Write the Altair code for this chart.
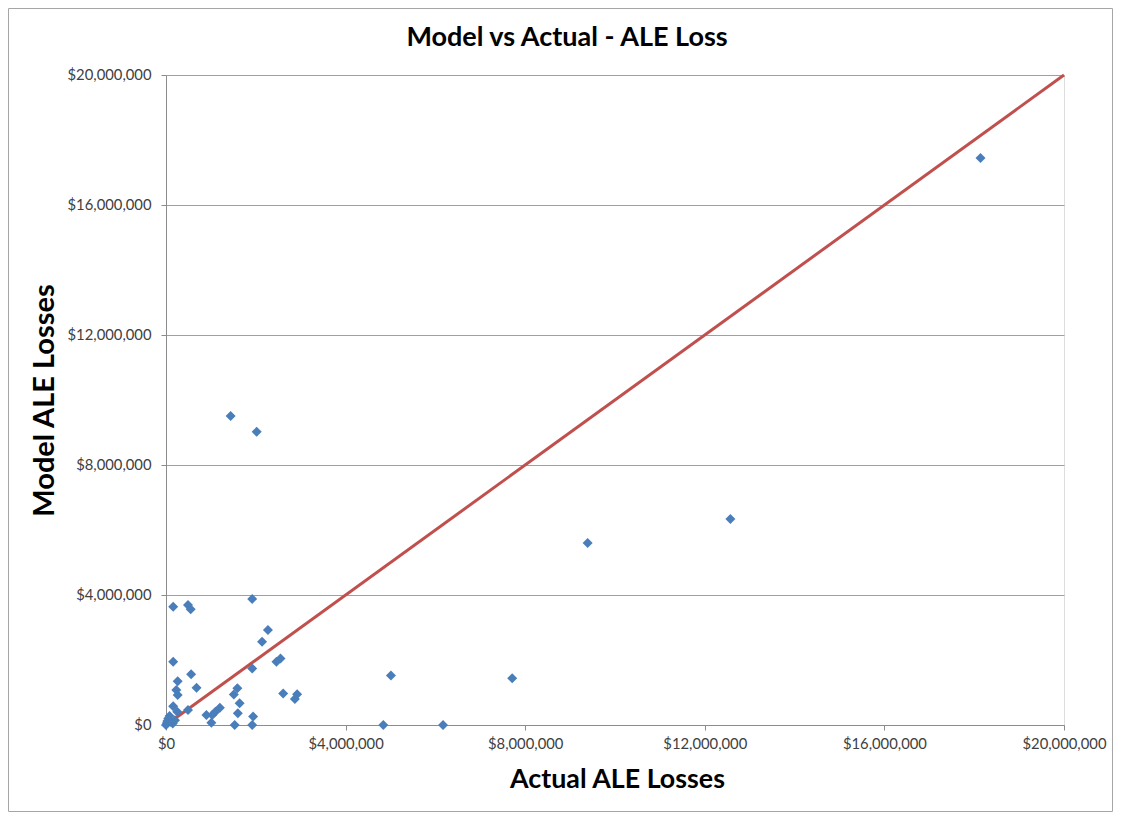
import altair as alt
import pandas as pd

# Actual ALE losses (x) and model ALE losses (y), in dollars
actual = [
    160000, 490000, 550000, 1920000, 2270000, 2140000, 160000, 2550000, 2460000, 1920000,
    560000, 260000, 680000, 230000, 260000, 1590000, 1510000, 2610000, 2920000, 2870000,
    160000, 250000, 490000, 1640000, 1200000, 1100000, 1030000, 900000, 1600000, 1010000,
    1940000, 1530000, 1920000,
    0, 20000, 50000, 100000, 150000, 80000, 200000, 30000,
    1440000, 2020000, 18140000, 12570000, 9390000, 5010000, 7710000, 4840000, 6170000,
]
model = [
    3640000, 3690000, 3560000, 3880000, 2920000, 2560000, 1950000, 2050000, 1950000, 1740000,
    1560000, 1350000, 1150000, 1080000, 920000, 1130000, 940000, 970000, 950000, 800000,
    580000, 410000, 460000, 670000, 530000, 410000, 310000, 310000, 360000, 70000,
    260000, 0, 0,
    0, 60000, 200000, 100000, 50000, 280000, 150000, 120000,
    9510000, 9020000, 17450000, 6340000, 5600000, 1520000, 1440000, 0, 0,
]
# 1:1 reference line
line_x = [0, 20000000]
line_y = [0, 20000000]
tick_vals = [0, 4000000, 8000000, 12000000, 16000000, 20000000]
chart_title = ["Model vs Actual - ALE Loss"]

FONT = "Lato"
W, H = 898, 650

pts = pd.DataFrame({"actual": actual, "model": model})
ref = pd.DataFrame({"actual": line_x, "model": line_y})

xs = alt.Scale(domain=[0, 20000000], nice=False, zero=True)
ys = alt.Scale(domain=[0, 20000000], nice=False, zero=True)

x_axis = alt.Axis(
    values=tick_vals, format="$,.0f", grid=False, title="Actual ALE Losses",
    labelFont=FONT, labelFontSize=14.8, labelColor="#404040", labelPadding=6,
    labelFlush=False, labelOverlap=False,
    domainColor="#8c8c8c", tickColor="#8c8c8c", tickSize=5,
    titleFont=FONT, titleFontSize=26.8, titleFontWeight="bold", titleColor="#000000",
    titleX=451, titleY=54, titleAlign="center", titleBaseline="middle",
)
y_axis = alt.Axis(
    values=tick_vals, format="$,.0f", grid=True, gridColor="#a0a0a0", gridWidth=1,
    title="Model ALE Losses",
    labelFont=FONT, labelFontSize=14.8, labelColor="#404040", labelPadding=10,
    labelFlush=False, labelOverlap=False,
    domainColor="#8c8c8c", tickColor="#8c8c8c", tickSize=5,
    titleFont=FONT, titleFontSize=29, titleFontWeight="bold", titleColor="#000000",
    titleX=-122, titleY=325, titleAlign="center", titleBaseline="middle", titleAngle=-90,
)

points = alt.Chart(pts).mark_point(
    shape="diamond", filled=True, size=100, color="#4A7EBB", opacity=1
).encode(
    x=alt.X("actual:Q", scale=xs, axis=x_axis),
    y=alt.Y("model:Q", scale=ys, axis=y_axis),
)

line = alt.Chart(ref).mark_line(color="#C0504D", strokeWidth=3).encode(
    x=alt.X("actual:Q", scale=xs),
    y=alt.Y("model:Q", scale=ys),
)

border = alt.Chart(pd.DataFrame({"a": [0]})).mark_rect(
    fill=None, stroke="#a6a6a6", strokeWidth=1, clip=False
).encode(
    x=alt.value(-157.5), x2=alt.value(946.5), y=alt.value(-66.5), y2=alt.value(736.5)
)

title = alt.Chart(pd.DataFrame({"t": chart_title})).mark_text(
    font=FONT, fontSize=27, fontWeight="bold", color="#000000",
    align="center", baseline="middle", clip=False,
).encode(text="t:N", x=alt.value(401), y=alt.value(-37))

chart = alt.layer(border, line, points, title).properties(
    width=W, height=H,
    autosize=alt.AutoSizeParams(type="none"),
    padding={"left": 158, "top": 67, "right": 49, "bottom": 88},
).configure_view(stroke=None).configure(background="white")

chart.save("out.html", embed_options={"renderer": "svg", "actions": False})
